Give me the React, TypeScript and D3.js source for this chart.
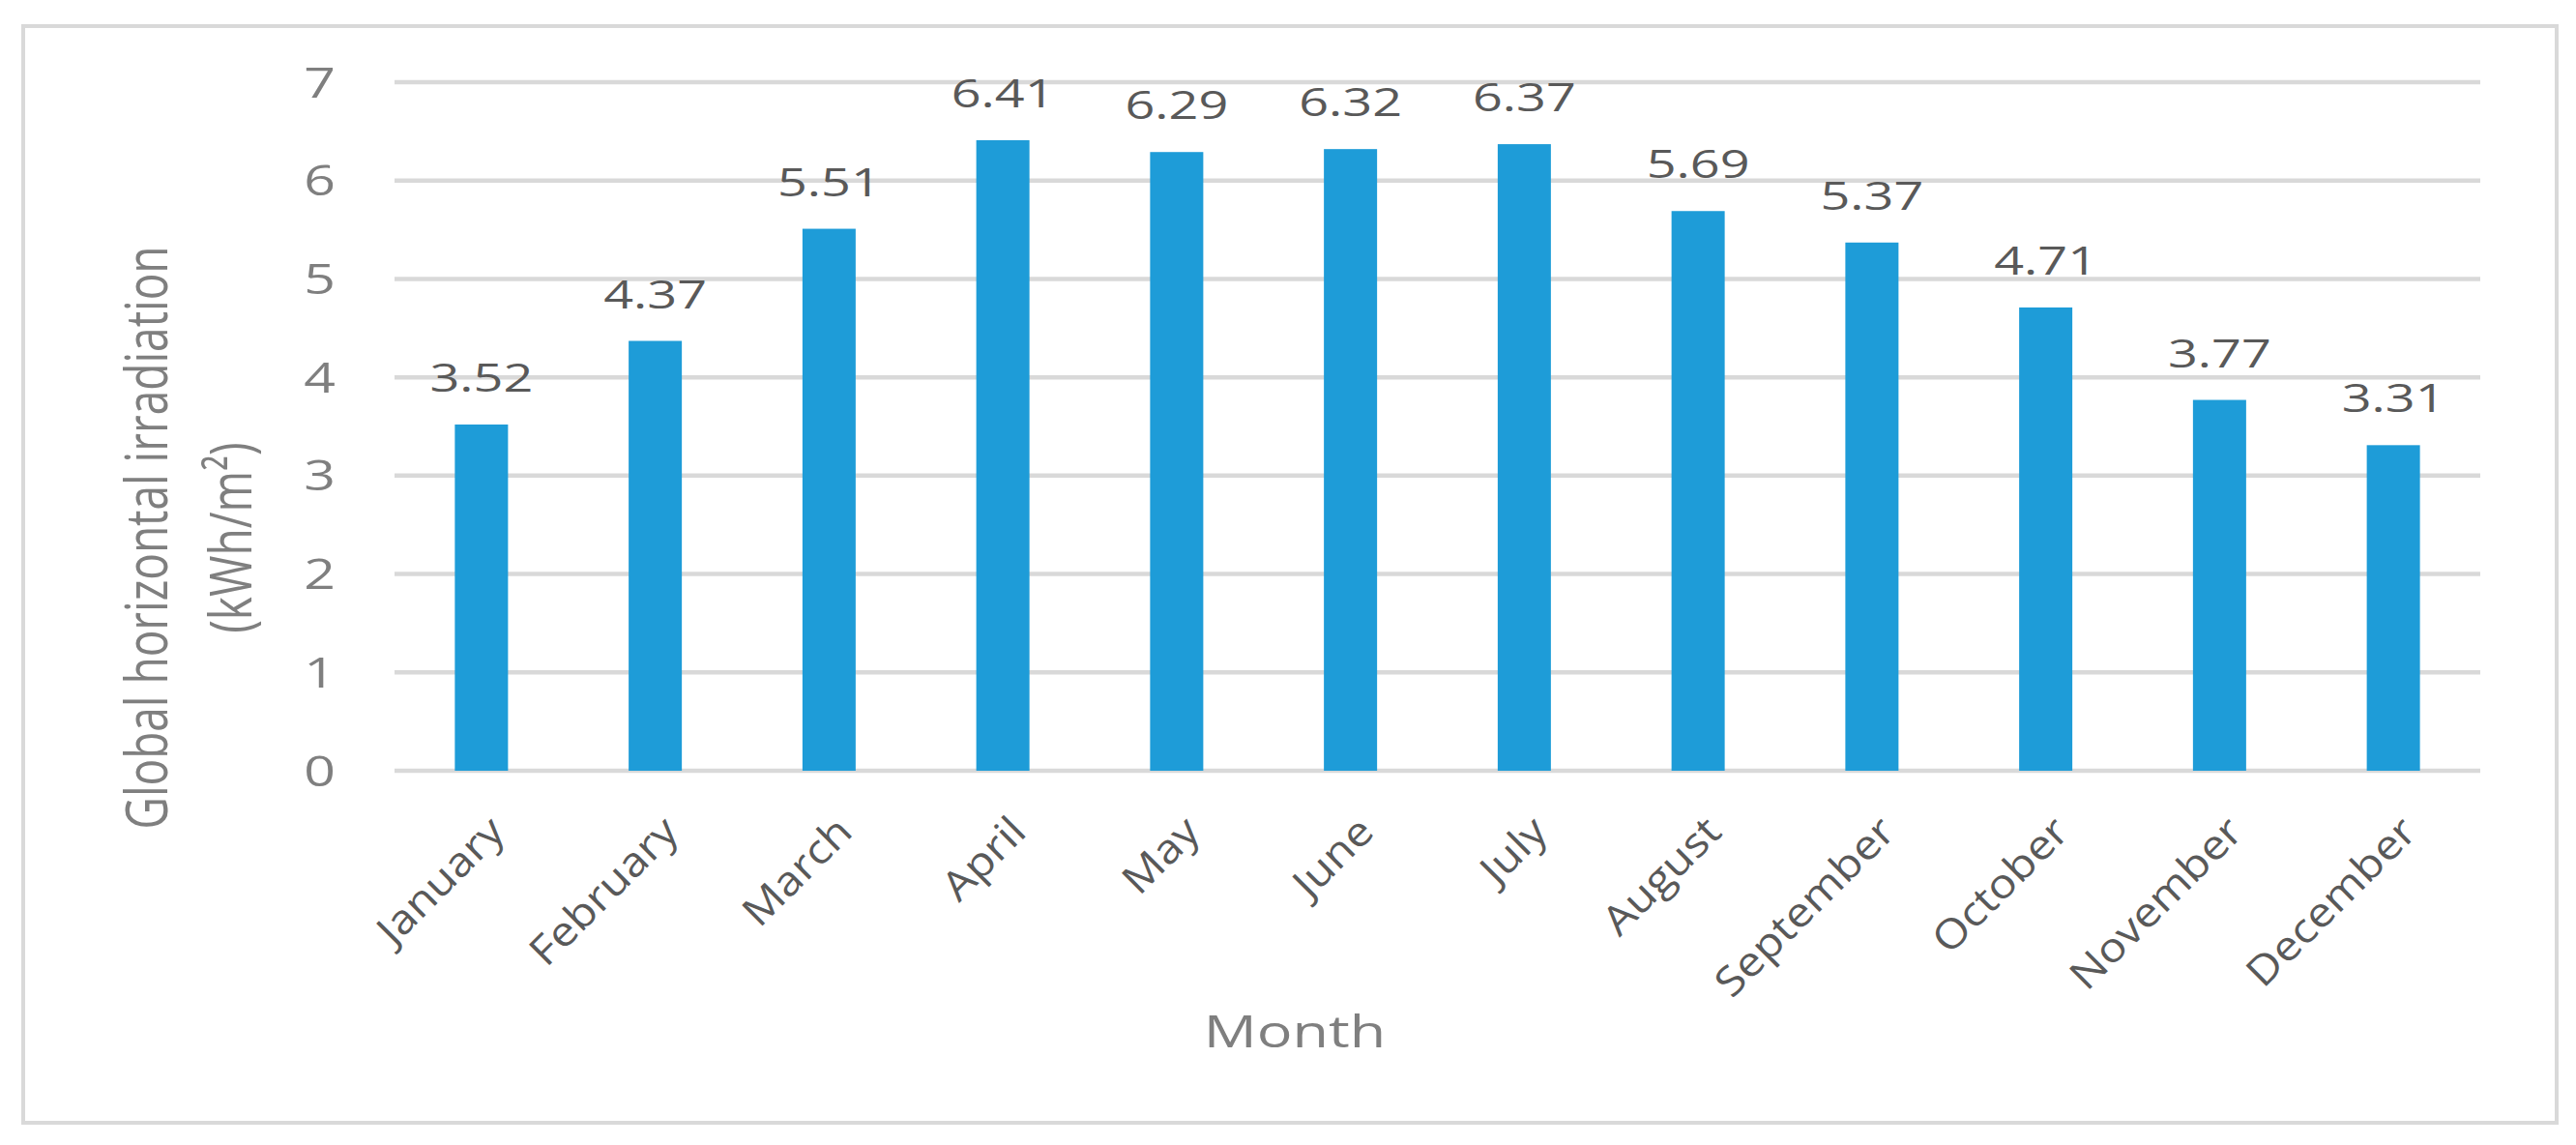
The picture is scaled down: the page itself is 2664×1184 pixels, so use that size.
import React from "react";
import * as d3 from "d3";

const months = ["January","February","March","April","May","June","July","August","September","October","November","December"];
const irradiation = [3.52, 4.37, 5.51, 6.41, 6.29, 6.32, 6.37, 5.69, 5.37, 4.71, 3.77, 3.31];
const yTicks = [0, 1, 2, 3, 4, 5, 6, 7];
const yTitleLines = ["Global horizontal irradiation", "(kWh/m²)"];
const xTitle = "Month";

const W = 2664, H = 1184;
const SX = 1.33;
const FONT = "'Open Sans', 'Noto Sans', sans-serif";

export default function App() {
  const x = d3.scaleBand<string>().domain(months).range([408, 2565]).paddingInner(0.694).paddingOuter(0.347);
  const y = d3.scaleLinear().domain([0, 7]).range([797, 85]);
  const fmt = d3.format(".2f");
  return (
    <svg width={W} height={H} style={{ position: "absolute", left: 0, top: 0, background: "#fff" }}>
      <rect x={24} y={27} width={2620} height={1134} fill="#fff" stroke="#d9d9d9" strokeWidth={4} />
      {yTicks.map(t => (
        <g key={t}>
          <line x1={408} x2={2565} y1={y(t)} y2={y(t)} stroke="#d9d9d9" strokeWidth={4.5} />
          <text transform={`translate(347,${y(t) + 15.5}) scale(${SX},1)`} textAnchor="end" fontFamily={FONT} fontSize={43} fill="#7f7f7f">{t}</text>
        </g>
      ))}
      {months.map((m, i) => {
        const cx = (x(m) as number) + x.bandwidth() / 2;
        const v = irradiation[i];
        return (
          <g key={m}>
            <rect x={x(m)} y={y(v)} width={x.bandwidth()} height={y(0) - y(v)} fill="#1e9cd8" />
            <text transform={`translate(${cx},${y(v) - 34}) scale(${SX},1)`} textAnchor="middle" fontFamily={FONT} fontSize={40.6} fill="#595959">{fmt(v)}</text>
            <text transform={`translate(${cx + 4},840) rotate(-45) scale(1.12,1)`} textAnchor="end" dy="0.75em" fontFamily={FONT} fontSize={42} fill="#595959">{m}</text>
          </g>
        );
      })}
      <text transform={`translate(1339,1083) scale(${SX},1)`} textAnchor="middle" fontFamily={FONT} fontSize={46} fill="#7f7f7f">{xTitle}</text>
      {yTitleLines.map((l, i) => (
        <text key={i} transform={`translate(${173 + i * 87},556) scale(${SX},1) rotate(-90)`} textAnchor="middle" fontFamily={FONT} fontSize={46} fill="#7f7f7f">{l}</text>
      ))}
    </svg>
  );
}
